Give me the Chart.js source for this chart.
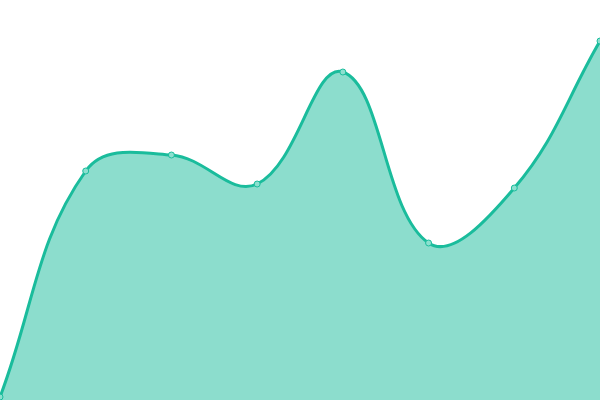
<!DOCTYPE html>
<html>
<head>
<meta charset="utf-8">
<script src="https://cdn.jsdelivr.net/npm/chart.js@4"></script>
<style>
  html, body { margin: 0; padding: 0; background: #fff; }
  #wrap { width: 600px; height: 400px; }
</style>
</head>
<body>
<div id="wrap"><canvas id="chart"></canvas></div>
<script>
const labels = ["1", "2", "3", "4", "5", "6", "7", "8"];
const values = [3, 229, 245, 216, 328, 157, 212, 359];

const ctx = document.getElementById("chart").getContext("2d");

new Chart(ctx, {
  type: "line",
  data: {
    labels: labels,
    datasets: [{
      data: values,
      fill: true,
      tension: 0.4,
      borderColor: "#1abc9c",
      backgroundColor: "rgba(26,188,156,0.5)",
      borderWidth: 3,
      pointRadius: 3,
      pointBorderWidth: 1,
      pointBackgroundColor: "#8ce0cf",
      pointBorderColor: "#1abc9c"
    }]
  },
  options: {
    responsive: true,
    maintainAspectRatio: false,
    animation: false,
    layout: { padding: 0, autoPadding: false },
    plugins: { legend: { display: false }, tooltip: { enabled: false } },
    scales: {
      x: { display: false },
      y: { display: false, min: 0, max: 400 }
    }
  }
});
</script>
</body>
</html>
